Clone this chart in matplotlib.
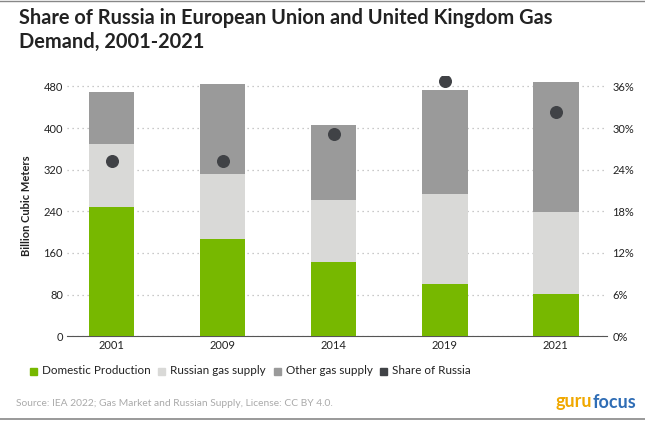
import numpy as np
import matplotlib.pyplot as plt
from matplotlib.ticker import FuncFormatter

years = ["2001", "2009", "2014", "2019", "2021"]
domestic = [249, 187, 143, 100, 81]
russian = [120, 124, 119, 174, 158]
other = [101, 174, 144, 200, 249]
share_russia = [25.3, 25.3, 29.2, 36.8, 32.3]

green = "#77b800"
light = "#d9d9d7"
dark = "#9a9a9a"
dot = "#404246"

plt.rcParams['font.family'] = ['Lato', 'DejaVu Sans']

fig = plt.figure(figsize=(6.45, 4.25), dpi=100)
ax = fig.add_axes([0.104, 0.209, 0.837, 0.612])
ax2 = ax.twinx()

x = np.arange(len(years))
w = 0.41
bottom2 = np.array(domestic) + np.array(russian)
ax.bar(x, domestic, w, color=green, zorder=3)
ax.bar(x, russian, w, bottom=domestic, color=light, zorder=3)
ax.bar(x, other, w, bottom=bottom2, color=dark, zorder=3)

ax.set_xlim(-0.4, 4.46)
ax.set_ylim(0, 500)
ax.set_yticks(np.arange(0, 481, 80))
ax.grid(axis='y', linestyle=(0, (1, 3)), color="#b8b8b8", linewidth=0.9, zorder=0)
ax.set_xticks(x)
ax.set_xticklabels(years)
ax.tick_params(axis='both', length=0, labelsize=8, colors="#222222", pad=3)
ax.set_ylabel("Billion Cubic Meters", fontsize=8, fontweight='bold', color="#222222", labelpad=8)
for s in ['top', 'left', 'right']:
    ax.spines[s].set_visible(False)
ax.spines['bottom'].set_color("#555555")

ax2.scatter(x, share_russia, s=70, color=dot, zorder=4)
ax2.set_ylim(0, 37.5)
ax2.set_yticks(np.arange(0, 37, 6))
ax2.yaxis.set_major_formatter(FuncFormatter(lambda v, p: f"{v:.0f}%"))
ax2.tick_params(axis='y', length=0, labelsize=8, colors="#222222", pad=4)
for s in ['top', 'left', 'right', 'bottom']:
    ax2.spines[s].set_visible(False)

fig.text(0.029, 0.93, "Share of Russia in European Union and United Kingdom Gas\nDemand, 2001-2021",
         fontsize=14.4, fontweight='bold', color="#222222", va='center', linespacing=1.25)

legend_items = [("Domestic Production", green, 30), ("Russian gas supply", light, 158),
                ("Other gas supply", dark, 274), ("Share of Russia", dot, 380)]
for label, c, px in legend_items:
    fig.patches.append(plt.Rectangle((px / 645, 1 - 375 / 425), 7 / 645, 7 / 425,
                                     transform=fig.transFigure, color=c, figure=fig))
    fig.text((px + 12) / 645, 1 - 371 / 425, label, fontsize=8.4, color="#222222", va='center')

fig.text(16 / 645, 1 - 404 / 425, "Source: IEA 2022; Gas Market and Russian Supply, License: CC BY 4.0.",
         fontsize=7.4, color="#aaaaaa", va='center')

guru = fig.text(556 / 645, 1 - 402 / 425, "guru", fontsize=13, color="#f0a800", fontweight='bold', va='center')
fig.canvas.draw()
bb = guru.get_window_extent()
fig.text(bb.x1 / 645, 1 - 402 / 425, "focus", fontsize=13, color="#2f6db5", fontweight='bold', va='center')

fig.add_artist(plt.Line2D([0, 1], [1 - 419 / 425] * 2, color="#888888", linewidth=1.2))
fig.add_artist(plt.Line2D([0, 1], [0.998] * 2, color="#888888", linewidth=1.0))

fig.savefig("out.png", dpi=100)
